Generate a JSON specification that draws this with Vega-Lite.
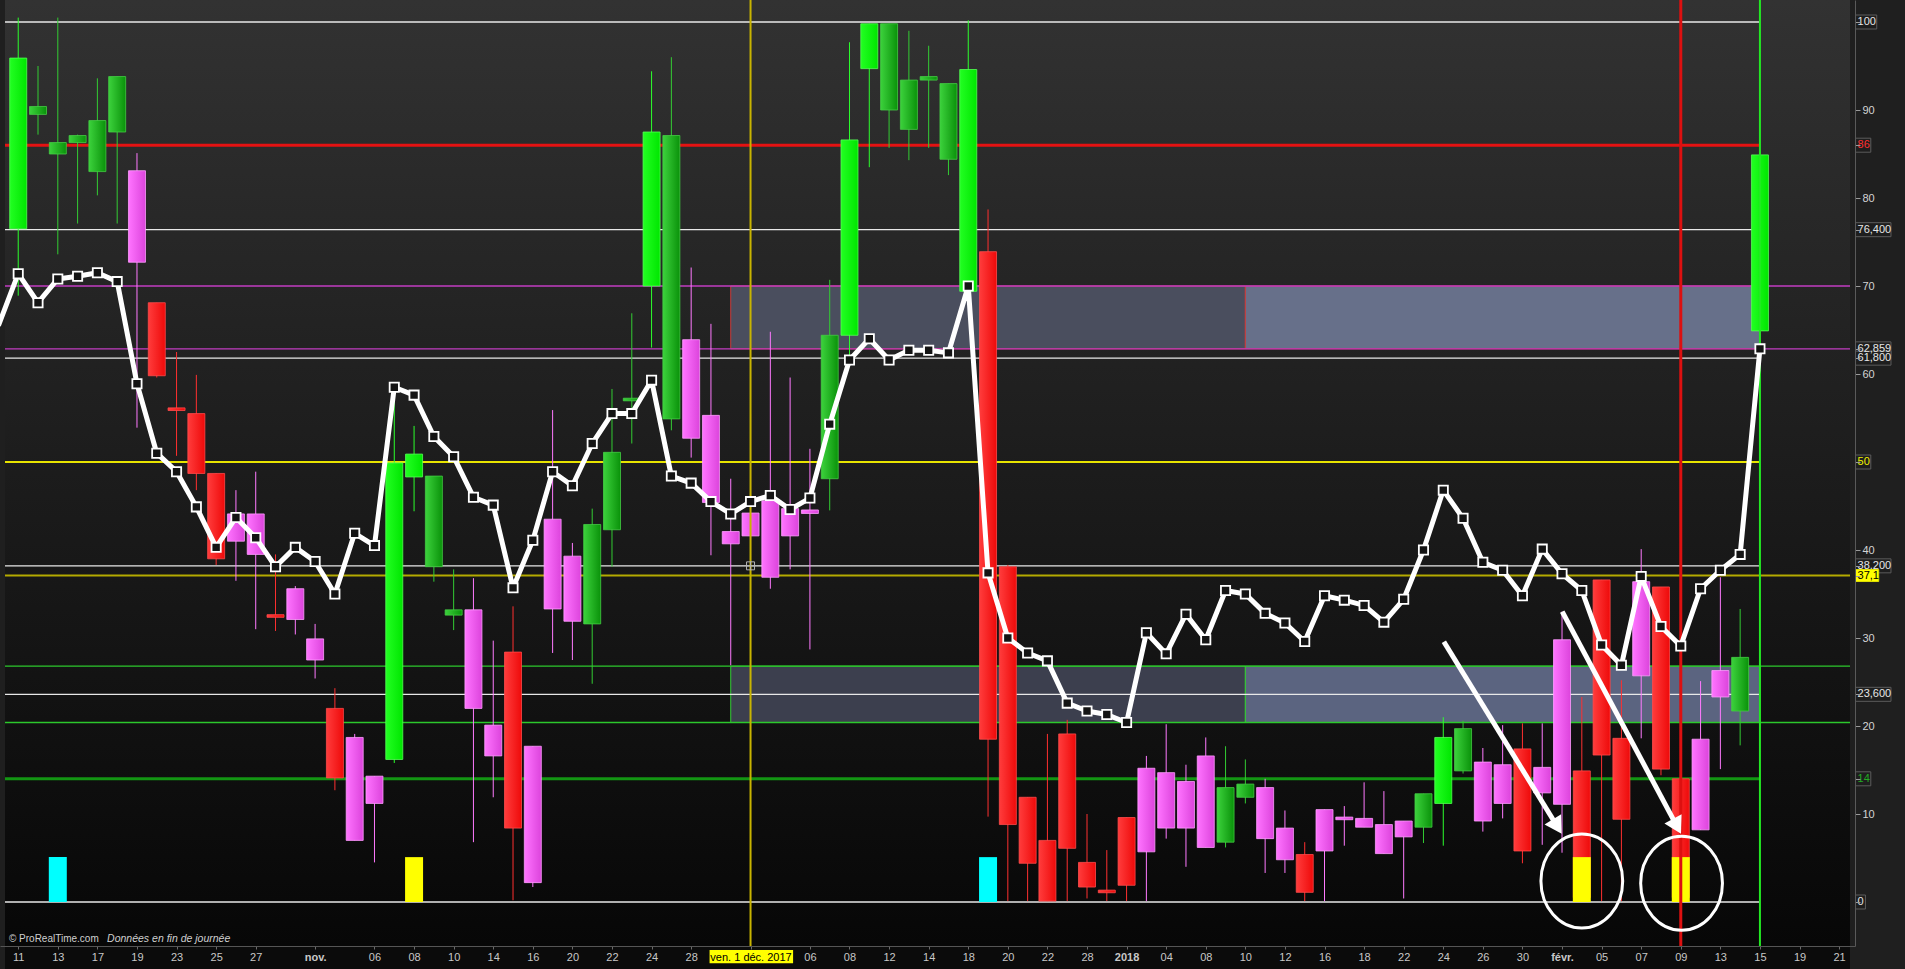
{
"$schema":"https://vega.github.io/schema/vega-lite/v6.json",
"width":1855,"height":946,
"autosize":{"type":"none"},
"padding":{"left":0,"top":0,"right":50,"bottom":23},
"background":"#1f1f1f",
"config":{"view":{"stroke":null},"font":"Liberation Sans","axis":{"grid":false}},
"resolve":{"scale":{"color":"independent","fill":"independent","stroke":"independent"}},
"datasets":{
"candles":[
{"i":-1,"k":65.5},
{"i":0,"d":"2017-10-11","t":"G","o":76.5,"c":95.9,"h":100.5,"l":68.9,"k":71.4},
{"i":1,"d":"2017-10-12","t":"g","o":89.5,"c":90.4,"h":95.0,"l":87.2,"k":68.1},
{"i":2,"d":"2017-10-13","t":"g","o":85.0,"c":86.3,"h":100.5,"l":73.6,"k":70.8},
{"i":3,"d":"2017-10-16","t":"g","o":86.3,"c":87.1,"h":87.2,"l":77.1,"k":71.1},
{"i":4,"d":"2017-10-17","t":"g","o":83.0,"c":88.8,"h":93.6,"l":80.3,"k":71.5},
{"i":5,"d":"2017-10-18","t":"g","o":87.5,"c":93.8,"h":93.8,"l":77.1,"k":70.5},
{"i":6,"d":"2017-10-19","t":"M","o":83.1,"c":72.7,"h":85.1,"l":53.9,"k":58.9},
{"i":7,"d":"2017-10-20","t":"R","o":68.1,"c":59.8,"h":68.1,"l":59.6,"k":51.0},
{"i":8,"d":"2017-10-23","t":"R","o":56.15,"c":55.85,"h":62.5,"l":50.7,"k":48.9},
{"i":9,"d":"2017-10-24","t":"R","o":55.5,"c":48.7,"h":59.9,"l":46.8,"k":44.9},
{"i":10,"d":"2017-10-25","t":"R","o":48.7,"c":39.0,"h":48.7,"l":38.3,"k":40.3},
{"i":11,"d":"2017-10-26","t":"M","o":44.1,"c":41.0,"h":46.8,"l":36.5,"k":43.7},
{"i":12,"d":"2017-10-27","t":"M","o":44.1,"c":39.5,"h":48.9,"l":31.0,"k":41.4},
{"i":13,"d":"2017-10-30","t":"R","o":32.65,"c":32.35,"h":39.5,"l":30.8,"k":38.1},
{"i":14,"d":"2017-10-31","t":"M","o":35.6,"c":32.1,"h":35.9,"l":30.4,"k":40.3},
{"i":15,"d":"2017-11-01","t":"M","o":29.9,"c":27.5,"h":31.6,"l":25.4,"k":38.7},
{"i":16,"d":"2017-11-02","t":"R","o":22.0,"c":14.1,"h":24.3,"l":12.7,"k":35.0},
{"i":17,"d":"2017-11-03","t":"M","o":18.7,"c":7.0,"h":19.1,"l":7.0,"k":41.9},
{"i":18,"d":"2017-11-06","t":"M","o":14.3,"c":11.2,"h":14.3,"l":4.5,"k":40.5},
{"i":19,"d":"2017-11-07","t":"G","o":16.2,"c":49.9,"h":58.0,"l":15.8,"k":58.5},
{"i":20,"d":"2017-11-08","t":"G","o":48.3,"c":50.9,"h":54.1,"l":44.4,"k":57.6},
{"i":21,"d":"2017-11-09","t":"g","o":38.1,"c":48.4,"h":48.4,"l":36.4,"k":52.9},
{"i":22,"d":"2017-11-10","t":"g","o":32.6,"c":33.2,"h":37.8,"l":30.9,"k":50.6},
{"i":23,"d":"2017-11-13","t":"M","o":33.2,"c":22.0,"h":36.8,"l":6.8,"k":46.0},
{"i":24,"d":"2017-11-14","t":"M","o":20.1,"c":16.6,"h":29.7,"l":11.9,"k":45.1},
{"i":25,"d":"2017-11-15","t":"R","o":28.4,"c":8.4,"h":33.6,"l":0.2,"k":35.7},
{"i":26,"d":"2017-11-16","t":"M","o":17.7,"c":2.2,"h":17.7,"l":1.7,"k":41.1},
{"i":27,"d":"2017-11-17","t":"M","o":43.5,"c":33.3,"h":55.9,"l":28.3,"k":48.9},
{"i":28,"d":"2017-11-20","t":"M","o":39.3,"c":31.9,"h":40.8,"l":27.5,"k":47.3},
{"i":29,"d":"2017-11-21","t":"g","o":31.6,"c":42.9,"h":44.7,"l":24.8,"k":52.1},
{"i":30,"d":"2017-11-22","t":"g","o":42.3,"c":51.1,"h":58.3,"l":38.1,"k":55.5},
{"i":31,"d":"2017-11-23","t":"g","o":56.95,"c":57.25,"h":66.9,"l":52.1,"k":55.5},
{"i":32,"d":"2017-11-24","t":"G","o":70.0,"c":87.5,"h":94.4,"l":63.0,"k":59.3},
{"i":33,"d":"2017-11-27","t":"g","o":54.9,"c":87.1,"h":96.0,"l":53.6,"k":48.4},
{"i":34,"d":"2017-11-28","t":"M","o":63.9,"c":52.7,"h":72.1,"l":50.5,"k":47.6},
{"i":35,"d":"2017-11-29","t":"M","o":55.3,"c":45.4,"h":65.7,"l":39.4,"k":45.5},
{"i":36,"d":"2017-11-30","t":"M","o":42.1,"c":40.7,"h":48.1,"l":26.9,"k":44.1},
{"i":37,"d":"2017-12-01","t":"M","o":44.2,"c":41.6,"h":55.5,"l":38.5,"k":45.5},
{"i":38,"d":"2017-12-04","t":"M","o":45.6,"c":36.9,"h":64.8,"l":35.6,"k":46.2},
{"i":39,"d":"2017-12-05","t":"M","o":44.7,"c":41.6,"h":59.6,"l":37.8,"k":44.6},
{"i":40,"d":"2017-12-06","t":"M","o":44.55,"c":44.15,"h":51.5,"l":28.7,"k":45.9},
{"i":41,"d":"2017-12-07","t":"g","o":48.1,"c":64.4,"h":70.7,"l":44.5,"k":54.3},
{"i":42,"d":"2017-12-08","t":"G","o":64.4,"c":86.6,"h":97.7,"l":61.9,"k":61.6},
{"i":43,"d":"2017-12-11","t":"G","o":94.7,"c":99.8,"h":99.8,"l":83.5,"k":64.0},
{"i":44,"d":"2017-12-12","t":"g","o":90.0,"c":99.8,"h":99.8,"l":85.7,"k":61.6},
{"i":45,"d":"2017-12-13","t":"g","o":87.8,"c":93.4,"h":99.0,"l":84.3,"k":62.7},
{"i":46,"d":"2017-12-14","t":"g","o":93.4,"c":93.8,"h":97.3,"l":85.7,"k":62.7},
{"i":47,"d":"2017-12-15","t":"g","o":84.4,"c":93.0,"h":93.0,"l":82.6,"k":62.4},
{"i":48,"d":"2017-12-18","t":"G","o":69.4,"c":94.6,"h":100.2,"l":69.4,"k":70.0},
{"i":49,"d":"2017-12-19","t":"R","o":73.9,"c":18.5,"h":78.7,"l":9.7,"k":37.4},
{"i":50,"d":"2017-12-20","t":"R","o":38.1,"c":8.8,"h":38.3,"l":0.1,"k":30.0},
{"i":51,"d":"2017-12-21","t":"R","o":11.9,"c":4.4,"h":11.9,"l":0.1,"k":28.3},
{"i":52,"d":"2017-12-22","t":"R","o":7.0,"c":0.1,"h":19.1,"l":0.1,"k":27.4},
{"i":53,"d":"2017-12-27","t":"R","o":19.1,"c":6.1,"h":20.7,"l":0.1,"k":22.6},
{"i":54,"d":"2017-12-28","t":"R","o":4.5,"c":1.7,"h":10.0,"l":0.4,"k":21.7},
{"i":55,"d":"2017-12-29","t":"R","o":1.35,"c":1.05,"h":5.9,"l":0.1,"k":21.3},
{"i":56,"d":"2018-01-02","t":"R","o":9.6,"c":1.9,"h":9.6,"l":0.1,"k":20.4},
{"i":57,"d":"2018-01-03","t":"M","o":15.2,"c":5.7,"h":16.6,"l":0.1,"k":30.6},
{"i":58,"d":"2018-01-04","t":"M","o":14.7,"c":8.4,"h":20.2,"l":7.2,"k":28.2},
{"i":59,"d":"2018-01-05","t":"M","o":13.7,"c":8.4,"h":15.6,"l":4.0,"k":32.7},
{"i":60,"d":"2018-01-08","t":"M","o":16.6,"c":6.2,"h":18.7,"l":6.2,"k":29.8},
{"i":61,"d":"2018-01-09","t":"g","o":6.8,"c":13.0,"h":17.7,"l":6.2,"k":35.4},
{"i":62,"d":"2018-01-10","t":"g","o":11.9,"c":13.4,"h":16.2,"l":11.2,"k":35.0},
{"i":63,"d":"2018-01-11","t":"M","o":13.0,"c":7.2,"h":14.0,"l":3.3,"k":32.8},
{"i":64,"d":"2018-01-12","t":"M","o":8.4,"c":4.8,"h":10.4,"l":3.3,"k":31.7},
{"i":65,"d":"2018-01-15","t":"R","o":5.4,"c":1.1,"h":6.8,"l":0.1,"k":29.6},
{"i":66,"d":"2018-01-16","t":"M","o":10.5,"c":5.8,"h":10.5,"l":0.1,"k":34.8},
{"i":67,"d":"2018-01-17","t":"M","o":9.65,"c":9.35,"h":10.9,"l":6.4,"k":34.3},
{"i":68,"d":"2018-01-18","t":"M","o":9.5,"c":8.5,"h":13.6,"l":8.5,"k":33.7},
{"i":69,"d":"2018-01-19","t":"M","o":8.8,"c":5.5,"h":12.6,"l":5.5,"k":31.8},
{"i":70,"d":"2018-01-22","t":"M","o":9.2,"c":7.4,"h":9.2,"l":0.4,"k":34.4},
{"i":71,"d":"2018-01-23","t":"g","o":8.5,"c":12.3,"h":12.3,"l":6.7,"k":40.0},
{"i":72,"d":"2018-01-24","t":"G","o":11.2,"c":18.7,"h":21.0,"l":6.4,"k":46.8},
{"i":73,"d":"2018-01-25","t":"g","o":14.9,"c":19.7,"h":20.6,"l":14.6,"k":43.6},
{"i":74,"d":"2018-01-26","t":"M","o":15.9,"c":9.2,"h":17.5,"l":8.0,"k":38.6},
{"i":75,"d":"2018-01-29","t":"M","o":15.6,"c":11.2,"h":20.1,"l":9.5,"k":37.7},
{"i":76,"d":"2018-01-30","t":"R","o":17.4,"c":5.8,"h":20.3,"l":4.4,"k":34.8},
{"i":77,"d":"2018-01-31","t":"M","o":15.3,"c":12.4,"h":20.3,"l":6.5,"k":40.1},
{"i":78,"d":"2018-02-01","t":"M","o":29.8,"c":11.1,"h":33.0,"l":5.6,"k":37.3},
{"i":79,"d":"2018-02-02","t":"R","o":14.9,"c":0.5,"h":23.3,"l":0.1,"k":35.4},
{"i":80,"d":"2018-02-05","t":"R","o":36.6,"c":16.7,"h":36.6,"l":0.1,"k":29.2},
{"i":81,"d":"2018-02-06","t":"R","o":18.6,"c":9.4,"h":25.2,"l":0.1,"k":26.9},
{"i":82,"d":"2018-02-07","t":"M","o":36.4,"c":25.7,"h":40.1,"l":18.6,"k":37.0},
{"i":83,"d":"2018-02-08","t":"R","o":35.8,"c":15.1,"h":35.8,"l":14.4,"k":31.3},
{"i":84,"d":"2018-02-09","t":"R","o":14.0,"c":0.5,"h":14.0,"l":0.1,"k":29.1},
{"i":85,"d":"2018-02-12","t":"M","o":18.5,"c":8.2,"h":25.1,"l":8.2,"k":35.6},
{"i":86,"d":"2018-02-13","t":"M","o":26.3,"c":23.3,"h":36.9,"l":15.1,"k":37.7},
{"i":87,"d":"2018-02-14","t":"g","o":21.7,"c":27.8,"h":33.3,"l":17.8,"k":39.5},
{"i":88,"d":"2018-02-15","t":"G","o":64.9,"c":84.9,"h":84.9,"l":64.9,"k":62.859}
],
"levels":[
{"level":100,"kind":"fibo"},{"level":76.4,"kind":"fibo"},{"level":61.8,"kind":"fibo"},{"level":38.2,"kind":"fibo"},{"level":23.6,"kind":"fibo"},{"level":0,"kind":"fibo"},
{"level":86,"kind":"ob"},{"level":50,"kind":"mid"},{"level":14,"kind":"os"},
{"level":70,"kind":"band"},{"level":62.859,"kind":"band"},{"level":37.1,"kind":"last"},
{"level":26.8,"kind":"zone"},{"level":20.4,"kind":"zone"}
],
"zones":[
{"zone":"upper","phase":"past","start":36,"end":62,"lo":62.859,"hi":70},
{"zone":"upper","phase":"now","start":62,"end":88,"lo":62.859,"hi":70},
{"zone":"lower","phase":"past","start":36,"end":62,"lo":20.4,"hi":26.8},
{"zone":"lower","phase":"now","start":62,"end":88,"lo":20.4,"hi":26.8}
],
"markers":[{"i":37,"name":"cursor"},{"i":84,"name":"signal"},{"i":88,"name":"today"}],
"signals":[{"i":2,"sig":"a","v":5.1},{"i":20,"sig":"b","v":5.1},{"i":49,"sig":"a","v":5.1},{"i":79,"sig":"b","v":5.1},{"i":84,"sig":"b","v":5.1}],
"arrows":[{"n":1,"x0":72.03,"y0":29.58,"x1":77.76,"y1":8.58},{"n":2,"x0":78.01,"y0":32.99,"x1":83.81,"y1":8.6}],
"rings":[{"x":79.0,"y":2.39},{"x":84.04,"y":2.13}],
"tags":[
{"level":100,"label":"100","kind":"plain"},{"level":86,"label":"86","kind":"ob"},{"level":76.4,"label":"76,400","kind":"plain"},
{"level":62.859,"label":"62,859","kind":"plain"},{"level":61.8,"label":"61,800","kind":"plain"},{"level":50,"label":"50","kind":"mid"},
{"level":38.2,"label":"38,200","kind":"plain"},{"level":37.1,"label":"37,1","kind":"last"},{"level":23.6,"label":"23,600","kind":"plain"},
{"level":14,"label":"14","kind":"os"},{"level":0,"label":"0","kind":"plain"}
]
},
"layer":[
{"data":{"name":"candles"},"mark":{"type":"line","color":"#ffffff","strokeWidth":5,"opacity":0,"clip":true},
 "encoding":{
  "x":{"field":"i","type":"quantitative","title":null,"scale":{"domain":[-0.668,92.55],"nice":false,"zero":false},
   "axis":{"title":null,"values":[0,2,4,6,8,10,12,15,18,20,22,24,26,28,30,32,34,37,40,42,44,46,48,50,52,54,56,58,60,62,64,66,68,70,72,74,76,78,80,82,84,86,88,90,92],
    "labelExpr":"['11','13','17','19','23','25','27','nov.','06','08','10','14','16','20','22','24','28','ven. 1 déc. 2017','06','08','12','14','18','20','22','28','2018','04','08','10','12','16','18','22','24','26','30','févr.','05','07','09','13','15','19','21'][indexof([0,2,4,6,8,10,12,15,18,20,22,24,26,28,30,32,34,37,40,42,44,46,48,50,52,54,56,58,60,62,64,66,68,70,72,74,76,78,80,82,84,86,88,90,92],datum.value)]",
    "domain":true,"ticks":true,"labels":true,"domainColor":"#555555","tickColor":"#6a6a6a","tickSize":3,"labelPadding":2,"labelFont":"Liberation Sans","labelFontSize":11,
    "labelColor":{"condition":{"test":"datum.value==37","value":"#000000"},"value":"#c8c8c8"},
    "labelFontWeight":{"condition":{"test":"datum.value==15||datum.value==56||datum.value==78","value":"bold"},"value":"normal"},
    "labelOverlap":false,"labelFlush":false,"zindex":2}},
  "y":{"field":"k","type":"quantitative","title":null,"scale":{"domain":[-5,102.5],"nice":false,"zero":false},
   "axis":{"title":null,"orient":"right","values":[0,10,14,20,23.6,30,37.1,38.2,40,50,60,61.8,62.859,70,76.4,80,86,90,100],
    "labelExpr":"indexof([0,14,23.6,37.1,38.2,50,61.8,62.859,76.4,86,100],datum.value)>=0?'':datum.label",
    "domain":true,"ticks":true,"labels":true,"domainColor":"#5a5a5a","tickColor":"#9a9a9a","tickSize":5,"labelPadding":2,"labelFont":"Liberation Sans","labelFontSize":11,"labelColor":"#d4d4d4",
    "labelOverlap":false,"labelFlush":false,"labelBaseline":"middle","zindex":2}}}},
{"data":{"values":[{"part":"plot"}]},
 "mark":{"type":"rect","fill":{"gradient":"linear","x1":0,"y1":0,"x2":0,"y2":1,"stops":[{"offset":0,"color":"#323232"},{"offset":0.5,"color":"#1c1c1c"},{"offset":1,"color":"#070707"}]}},
 "encoding":{"x":{"datum":-0.668,"type":"quantitative"},"x2":{"datum":92.55},"y":{"datum":-5,"type":"quantitative"},"y2":{"datum":102.5}}},
{"data":{"values":[{"part":"axisband"}]},"mark":{"type":"rect","fill":"#0b0b0b"},
 "encoding":{"x":{"datum":-0.668,"type":"quantitative"},"x2":{"datum":92.55},"y":{"datum":-5,"type":"quantitative"},"y2":{"datum":-7.7}}},
{"data":{"name":"zones"},"transform":[{"filter":"datum.zone=='upper'"}],"mark":{"type":"rect","stroke":"#c83c3c","strokeWidth":1},
 "encoding":{"x":{"field":"start","type":"quantitative","title":null},"x2":{"field":"end"},"y":{"field":"lo","type":"quantitative","title":null},"y2":{"field":"hi"},
  "fill":{"field":"phase","type":"nominal","scale":{"domain":["past","now"],"range":["#4a4e5e","#67708a"]},"legend":null}}},
{"data":{"name":"zones"},"transform":[{"filter":"datum.zone=='lower'"}],"mark":{"type":"rect","stroke":"#33cc33","strokeWidth":1},
 "encoding":{"x":{"field":"start","type":"quantitative","title":null},"x2":{"field":"end"},"y":{"field":"lo","type":"quantitative","title":null},"y2":{"field":"hi"},
  "fill":{"field":"phase","type":"nominal","scale":{"domain":["past","now"],"range":["#3c3f4e","#5b6480"]},"legend":null}}},
{"data":{"name":"levels"},"transform":[{"filter":"datum.kind=='fibo'"}],"mark":{"type":"rule","color":"#e8e8e8","strokeWidth":1.3},
 "encoding":{"x":{"datum":-0.668,"type":"quantitative"},"x2":{"datum":88},"y":{"field":"level","type":"quantitative","title":null}}},
{"data":{"name":"levels"},"transform":[{"filter":"datum.kind=='ob'"}],"mark":{"type":"rule","color":"#e41212","strokeWidth":3},
 "encoding":{"x":{"datum":-0.668,"type":"quantitative"},"x2":{"datum":88},"y":{"field":"level","type":"quantitative","title":null}}},
{"data":{"name":"levels"},"transform":[{"filter":"datum.kind=='mid'"}],"mark":{"type":"rule","color":"#e8e400","strokeWidth":2},
 "encoding":{"x":{"datum":-0.668,"type":"quantitative"},"x2":{"datum":88},"y":{"field":"level","type":"quantitative","title":null}}},
{"data":{"name":"levels"},"transform":[{"filter":"datum.kind=='os'"}],"mark":{"type":"rule","color":"#139613","strokeWidth":3},
 "encoding":{"x":{"datum":-0.668,"type":"quantitative"},"x2":{"datum":88},"y":{"field":"level","type":"quantitative","title":null}}},
{"data":{"name":"levels"},"transform":[{"filter":"datum.kind=='band'"}],"mark":{"type":"rule","color":"#c23cc2","strokeWidth":1.3},
 "encoding":{"x":{"datum":-0.668,"type":"quantitative"},"x2":{"datum":92.55},"y":{"field":"level","type":"quantitative","title":null}}},
{"data":{"name":"levels"},"transform":[{"filter":"datum.kind=='last'"}],"mark":{"type":"rule","color":"#b4aa00","strokeWidth":2},
 "encoding":{"x":{"datum":-0.668,"type":"quantitative"},"x2":{"datum":92.55},"y":{"field":"level","type":"quantitative","title":null}}},
{"data":{"name":"levels"},"transform":[{"filter":"datum.kind=='zone'"}],"mark":{"type":"rule","color":"#2cc82c","strokeWidth":1.3},
 "encoding":{"x":{"datum":-0.668,"type":"quantitative"},"x2":{"datum":92.55},"y":{"field":"level","type":"quantitative","title":null}}},
{"data":{"name":"candles"},"transform":[{"filter":"isValid(datum.t)"}],"mark":{"type":"rule","strokeWidth":1},
 "encoding":{"x":{"field":"i","type":"quantitative","title":null},"y":{"field":"l","type":"quantitative","title":null},"y2":{"field":"h"},
  "color":{"field":"t","type":"nominal","scale":{"domain":["G","g","R","M"],"range":["#2cff2c","#33cc33","#ff3030","#ff7aff"]},"legend":null}}},
{"data":{"name":"candles"},"transform":[{"filter":"datum.t=='G'"}],
 "mark":{"type":"bar","orient":"vertical","size":17,"stroke":"#55ff55","strokeWidth":0.8,"fill":{"gradient":"linear","x1":0,"y1":0,"x2":1,"y2":0,"stops":[{"offset":0,"color":"#22ff22"},{"offset":1,"color":"#00e600"}]}},
 "encoding":{"x":{"field":"i","type":"quantitative","title":null},"y":{"field":"o","type":"quantitative","title":null},"y2":{"field":"c"}}},
{"data":{"name":"candles"},"transform":[{"filter":"datum.t=='g'"}],
 "mark":{"type":"bar","orient":"vertical","size":17,"stroke":"#44cc44","strokeWidth":0.8,"fill":{"gradient":"linear","x1":0,"y1":0,"x2":1,"y2":0,"stops":[{"offset":0,"color":"#3cd23c"},{"offset":1,"color":"#0a920a"}]}},
 "encoding":{"x":{"field":"i","type":"quantitative","title":null},"y":{"field":"o","type":"quantitative","title":null},"y2":{"field":"c"}}},
{"data":{"name":"candles"},"transform":[{"filter":"datum.t=='R'"}],
 "mark":{"type":"bar","orient":"vertical","size":17,"stroke":"#ff4a4a","strokeWidth":0.8,"fill":{"gradient":"linear","x1":0,"y1":0,"x2":1,"y2":0,"stops":[{"offset":0,"color":"#ff3c3c"},{"offset":1,"color":"#ee0a0a"}]}},
 "encoding":{"x":{"field":"i","type":"quantitative","title":null},"y":{"field":"o","type":"quantitative","title":null},"y2":{"field":"c"}}},
{"data":{"name":"candles"},"transform":[{"filter":"datum.t=='M'"}],
 "mark":{"type":"bar","orient":"vertical","size":17,"stroke":"#ff9cff","strokeWidth":0.8,"fill":{"gradient":"linear","x1":0,"y1":0,"x2":1,"y2":0,"stops":[{"offset":0,"color":"#ff74ff"},{"offset":1,"color":"#dc44dc"}]}},
 "encoding":{"x":{"field":"i","type":"quantitative","title":null},"y":{"field":"o","type":"quantitative","title":null},"y2":{"field":"c"}}},
{"data":{"name":"signals"},"mark":{"type":"bar","orient":"vertical","size":18},
 "encoding":{"x":{"field":"i","type":"quantitative","title":null},"y":{"field":"v","type":"quantitative","title":null},"y2":{"datum":0},
  "color":{"field":"sig","type":"nominal","scale":{"domain":["a","b"],"range":["#00ffff","#ffff00"]},"legend":null}}},
{"data":{"name":"markers"},"transform":[{"filter":"datum.name!='signal'"}],"mark":{"type":"rule","strokeWidth":2},
 "encoding":{"x":{"field":"i","type":"quantitative","title":null},
  "color":{"field":"name","type":"nominal","scale":{"domain":["cursor","today"],"range":["#c8b400","#22e822"]},"legend":null}}},
{"data":{"name":"markers"},"transform":[{"filter":"datum.name=='signal'"}],"mark":{"type":"rule","strokeWidth":3,"color":"#dd1010"},
 "encoding":{"x":{"field":"i","type":"quantitative","title":null}}},
{"data":{"name":"candles"},"mark":{"type":"line","color":"#ffffff","strokeWidth":5,"clip":true,"strokeJoin":"round"},
 "encoding":{"x":{"field":"i","type":"quantitative","title":null},"y":{"field":"k","type":"quantitative","title":null}}},
{"data":{"name":"candles"},"transform":[{"filter":"datum.i>=0"}],"mark":{"type":"point","shape":"square","size":85,"filled":true,"fill":"#141414","stroke":"#ffffff","strokeWidth":1.8,"opacity":1},
 "encoding":{"x":{"field":"i","type":"quantitative","title":null},"y":{"field":"k","type":"quantitative","title":null}}},
{"data":{"values":[{"i":37,"v":38.2}]},"mark":{"type":"point","shape":"M-1,-1H1V1H-1ZM0,-1V1M-1,0H1","size":64,"filled":false,"stroke":"#b4b4b4","strokeWidth":1,"opacity":1},
 "encoding":{"x":{"field":"i","type":"quantitative","title":null},"y":{"field":"v","type":"quantitative","title":null}}},
{"data":{"name":"arrows"},"mark":{"type":"rule","color":"#ffffff","strokeWidth":5,"strokeCap":"butt"},
 "encoding":{"x":{"field":"x0","type":"quantitative","title":null},"y":{"field":"y0","type":"quantitative","title":null},"x2":{"field":"x1"},"y2":{"field":"y1"}}},
{"data":{"name":"arrows"},"transform":[{"filter":"datum.n==1"}],"mark":{"type":"point","shape":"triangle-down","size":380,"filled":true,"color":"#ffffff","opacity":1,"angle":-31.7},
 "encoding":{"x":{"field":"x1","type":"quantitative","title":null},"y":{"field":"y1","type":"quantitative","title":null}}},
{"data":{"name":"arrows"},"transform":[{"filter":"datum.n==2"}],"mark":{"type":"point","shape":"triangle-down","size":380,"filled":true,"color":"#ffffff","opacity":1,"angle":-28.3},
 "encoding":{"x":{"field":"x1","type":"quantitative","title":null},"y":{"field":"y1","type":"quantitative","title":null}}},
{"data":{"name":"rings"},"mark":{"type":"point","shape":"M0.87,0C0.87,0.5523,0.4805,1,0,1C-0.4805,1,-0.87,0.5523,-0.87,0C-0.87,-0.5523,-0.4805,-1,0,-1C0.4805,-1,0.87,-0.5523,0.87,0Z","size":8836,"filled":false,"stroke":"#ffffff","strokeWidth":3,"opacity":1},
 "encoding":{"x":{"field":"x","type":"quantitative","title":null},"y":{"field":"y","type":"quantitative","title":null}}},
{"data":{"values":[{"part":"cursorlabel"}]},"mark":{"type":"rect","fill":"#ffff00"},
 "encoding":{"x":{"datum":34.93,"type":"quantitative"},"x2":{"datum":39.15},"y":{"datum":-5.45,"type":"quantitative"},"y2":{"datum":-6.95}}},
{"data":{"name":"tags"},"transform":[{"filter":"length(datum.label)==1"}],"mark":{"type":"rect","fill":"#1e1e1e","stroke":"#5c5c5c","strokeWidth":1,"yOffset":-7,"y2Offset":7},
 "encoding":{"x":{"datum":92.83,"type":"quantitative"},"x2":{"datum":93.33},"y":{"field":"level","type":"quantitative","title":null},"y2":{"field":"level"}}},
{"data":{"name":"tags"},"transform":[{"filter":"length(datum.label)==2"}],"mark":{"type":"rect","fill":"#1e1e1e","stroke":"#5c5c5c","strokeWidth":1,"yOffset":-7,"y2Offset":7},
 "encoding":{"x":{"datum":92.83,"type":"quantitative"},"x2":{"datum":93.6},"y":{"field":"level","type":"quantitative","title":null},"y2":{"field":"level"}}},
{"data":{"name":"tags"},"transform":[{"filter":"length(datum.label)==3"}],"mark":{"type":"rect","fill":"#1e1e1e","stroke":"#5c5c5c","strokeWidth":1,"yOffset":-7,"y2Offset":7},
 "encoding":{"x":{"datum":92.83,"type":"quantitative"},"x2":{"datum":93.9},"y":{"field":"level","type":"quantitative","title":null},"y2":{"field":"level"}}},
{"data":{"name":"tags"},"transform":[{"filter":"length(datum.label)==6"}],"mark":{"type":"rect","fill":"#1e1e1e","stroke":"#5c5c5c","strokeWidth":1,"yOffset":-7,"y2Offset":7},
 "encoding":{"x":{"datum":92.83,"type":"quantitative"},"x2":{"datum":94.62},"y":{"field":"level","type":"quantitative","title":null},"y2":{"field":"level"}}},
{"data":{"name":"tags"},"transform":[{"filter":"datum.kind!='last'"}],"mark":{"type":"text","align":"left","baseline":"middle","dx":2,"font":"Liberation Sans","fontSize":11},
 "encoding":{"x":{"datum":92.83,"type":"quantitative"},"y":{"field":"level","type":"quantitative","title":null},"text":{"field":"label"},
  "color":{"field":"kind","type":"nominal","scale":{"domain":["plain","ob","mid","os"],"range":["#e6e6e6","#ff3030","#f0f000","#22aa22"]},"legend":null}}},
{"data":{"name":"tags"},"transform":[{"filter":"datum.kind=='last'"}],"mark":{"type":"rect","fill":"#ffff00","stroke":"#e0e000","strokeWidth":1,"yOffset":-6,"y2Offset":6},
 "encoding":{"x":{"datum":92.83,"type":"quantitative"},"x2":{"datum":94.0},"y":{"field":"level","type":"quantitative","title":null},"y2":{"field":"level"}}},
{"data":{"name":"tags"},"transform":[{"filter":"datum.kind=='last'"}],"mark":{"type":"text","align":"left","baseline":"middle","dx":2,"font":"Liberation Sans","fontSize":11,"color":"#000000"},
 "encoding":{"x":{"datum":92.83,"type":"quantitative"},"y":{"field":"level","type":"quantitative","title":null},"text":{"field":"label"}}},
{"data":{"values":[{"txt":"© ProRealTime.com"}]},"mark":{"type":"text","align":"left","baseline":"middle","font":"Liberation Sans Narrow, Liberation Sans","fontSize":10,"color":"#d0d0d0"},
 "encoding":{"x":{"datum":-0.47,"type":"quantitative"},"y":{"datum":-4.2,"type":"quantitative"},"text":{"field":"txt"}}},
{"data":{"values":[{"txt":"Données en fin de journée"}]},"mark":{"type":"text","align":"left","baseline":"middle","font":"Liberation Sans Narrow, Liberation Sans","fontSize":10.5,"fontStyle":"italic","color":"#d0d0d0"},
 "encoding":{"x":{"datum":4.49,"type":"quantitative"},"y":{"datum":-4.2,"type":"quantitative"},"text":{"field":"txt"}}}
]
}
